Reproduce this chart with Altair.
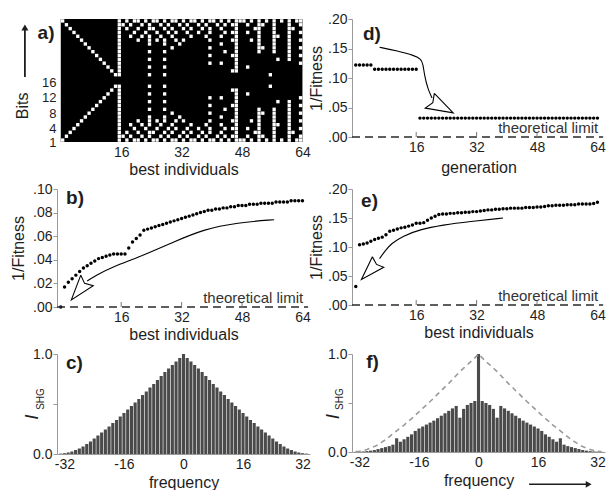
import altair as alt
import pandas as pd

FONT = "Liberation Sans"
TXT = "#1e1e1e"
AXC = "#9a9a9a"

# ---------------- data ----------------
# panel a: bit matrix, written top row (bit 32) to bottom row (bit 1); "1" = white cell
A_MATRIX = [
    "1000000000000001" "0101101011010110" "1011010110101011" "1010101010101011",
    "0100000000000001" "1010010100101001" "0100101001010110" "0100110010001001",
    "0010000000000001" "0100100110010100" "1010010100100010" "0001100010001100",
    "0001000000000001" "0001001001001010" "0100100100010110" "0100100010001001",
    "0000100000000001" "0010010100100100" "0010001000100010" "0000100011001000",
    "0000010000000001" "0000100101010010" "1000000100000110" "0010100010001001",
    "0000001000000001" "0000000100010001" "0000000000100010" "0000100010001000",
    "0000000100000001" "0000000000000100" "0000000100000010" "0000110010001001",
    "0000000010000001" "0000000100010000" "0000000000010010" "0000100010001000",
    "0000000001000001" "0000000000000000" "0000000100000110" "0000000000001001",
    "0000000000100001" "0000000100010000" "0000000000000010" "0000000001001000",
    "0000000000010001" "0000000000000000" "0000000100100010" "0000000000000001",
    "0000000000001001" "0000000100010000" "0000000000000010" "0100000000000000",
    "0000000000000101" "0000000000000000" "0000000000000110" "0000000000000000",
    "0000000000000011" "0000000100010000" "0000000000000000" "0000000100000000",
    "0000000000000000" "0000000000000000" "0000000000000000" "0000000000000000",
    "0000000000000000" "0000000000000000" "0000000000000000" "0000000000000000",
    "0000000000000011" "0000000100010000" "0000000000000000" "0000000100000000",
    "0000000000000101" "0000000000000000" "0000000000000110" "0000000000000000",
    "0000000000001001" "0000000100010000" "0000000000000010" "0100000000000000",
    "0000000000010001" "0000000000000000" "0000000100100010" "0000000000000001",
    "0000000000100001" "0000000100010000" "0000000000000010" "0000000001001000",
    "0000000001000001" "0000000000000000" "0000000100000110" "0000000000001001",
    "0000000010000001" "0000000100010000" "0000000000010010" "0000100010001000",
    "0000000100000001" "0000000000000100" "0000000100000010" "0000110010001001",
    "0000001000000001" "0000000100010001" "0000000000100010" "0000100010001000",
    "0000010000000001" "0000100101010010" "1000000100000110" "0010100010001001",
    "0000100000000001" "0010010100100100" "0010001000100010" "0000100011001000",
    "0001000000000001" "0001001001001010" "0100100100010110" "0100100010001001",
    "0010000000000001" "0100100110010100" "1010010100100010" "0001100010001100",
    "0100000000000001" "1010010100101001" "0100101001010110" "0100110010001001",
    "1000000000000001" "0101101011010110" "1011010110101011" "1010101010101011",
]
A_XTICKS = [16, 32, 48, 64]
A_YTICKS = [1, 4, 8, 12, 16]

# panel b: best individuals 0..64
B_X = list(range(0, 65))
B_VAL = [0.000, 0.017, 0.021, 0.024, 0.027, 0.030, 0.033, 0.035, 0.037, 0.039,
         0.041, 0.042, 0.043, 0.044, 0.045, 0.045, 0.045, 0.045, 0.050, 0.055,
         0.058, 0.061, 0.065, 0.066, 0.067, 0.068, 0.069, 0.070, 0.071, 0.072,
         0.073, 0.074, 0.075, 0.076, 0.077, 0.078, 0.079, 0.080, 0.081, 0.082,
         0.082, 0.083, 0.083, 0.084, 0.084, 0.085, 0.085, 0.086, 0.086, 0.086,
         0.087, 0.087, 0.087, 0.088, 0.088, 0.088, 0.088, 0.089, 0.089, 0.089,
         0.089, 0.090, 0.090, 0.090, 0.090]

# panel d: generation 0..64
D_X = list(range(0, 65))
D_VAL = [0.122, 0.122, 0.122, 0.122, 0.122,
         0.115, 0.115, 0.115, 0.115, 0.115, 0.115, 0.115, 0.115, 0.115, 0.115, 0.115, 0.115,
         0.032, 0.032, 0.032, 0.032, 0.032, 0.032, 0.032, 0.032, 0.032, 0.032, 0.032, 0.032,
         0.032, 0.032, 0.032, 0.032, 0.032, 0.032, 0.032, 0.032, 0.032, 0.032, 0.032, 0.032,
         0.032, 0.032, 0.032, 0.032, 0.032, 0.032, 0.032, 0.032, 0.032, 0.032, 0.032, 0.032,
         0.032, 0.032, 0.032, 0.032, 0.032, 0.032, 0.032, 0.032, 0.032, 0.032, 0.032, 0.032]

# panel e: best individuals 0..64
E_X = list(range(0, 65))
E_VAL = [0.032, 0.104, 0.105, 0.107, 0.110, 0.113, 0.115, 0.117, 0.121, 0.127,
         0.129, 0.131, 0.133, 0.134, 0.136, 0.138, 0.141, 0.141, 0.142, 0.146,
         0.150, 0.153, 0.156, 0.157, 0.157, 0.158, 0.158, 0.159, 0.159, 0.160,
         0.160, 0.161, 0.161, 0.162, 0.163, 0.164, 0.164, 0.165, 0.165, 0.166,
         0.166, 0.167, 0.167, 0.167, 0.167, 0.168, 0.168, 0.168, 0.169, 0.169,
         0.170, 0.171, 0.171, 0.172, 0.172, 0.172, 0.173, 0.173, 0.173, 0.174,
         0.174, 0.174, 0.174, 0.175, 0.177]
FIT_XTICKS = [16, 32, 48, 64]

# panels c and f: frequency -33..33
FREQ = list(range(-33, 34))
C_VAL = [0.004, 0.008, 0.015, 0.025, 0.04, 0.055, 0.075, 0.10, 0.125, 0.155, 0.185,
         0.215, 0.245, 0.275, 0.31, 0.34, 0.375, 0.41, 0.445, 0.48, 0.515, 0.55,
         0.59, 0.625, 0.665, 0.70, 0.74, 0.78, 0.82, 0.855, 0.89, 0.925, 0.96,
         1.00,
         0.96, 0.925, 0.89, 0.855, 0.82, 0.78, 0.74, 0.70, 0.665, 0.625, 0.59,
         0.55, 0.515, 0.48, 0.445, 0.41, 0.375, 0.34, 0.31, 0.275, 0.245, 0.215,
         0.185, 0.155, 0.125, 0.10, 0.075, 0.055, 0.04, 0.025, 0.015, 0.008, 0.004]
F_VAL = [0.002, 0.004, 0.006, 0.009, 0.014, 0.02, 0.03, 0.04, 0.05, 0.06, 0.075,
         0.14, 0.105, 0.13, 0.155, 0.18, 0.215, 0.24, 0.26, 0.28, 0.30, 0.32,
         0.345, 0.37, 0.395, 0.42, 0.445, 0.47, 0.35, 0.44, 0.48, 0.50, 0.52,
         1.00,
         0.52, 0.50, 0.48, 0.44, 0.35, 0.47, 0.445, 0.42, 0.395, 0.37, 0.345,
         0.32, 0.30, 0.28, 0.26, 0.24, 0.215, 0.18, 0.155, 0.13, 0.105, 0.14,
         0.075, 0.06, 0.05, 0.04, 0.03, 0.02, 0.014, 0.009, 0.006, 0.004, 0.002]
FREQ_TICKS = [-32, -16, 0, 16, 32]

W = 253


# ---------------- helpers ----------------
class Frame:
    """scales + axes shared by every layer of one panel"""

    def __init__(self, xs, ys, xa, ya):
        self.xs, self.ys, self.xa, self.ya = xs, ys, xa, ya

    def enc(self, xf="x:Q", yf="y:Q"):
        return dict(x=alt.X(xf, scale=self.xs, axis=self.xa), y=alt.Y(yf, scale=self.ys, axis=self.ya))


def text_at(fr, x, y, text, color=TXT, **mark):
    df = pd.DataFrame({"x": [x], "y": [y], "t": [text]})
    return alt.Chart(df).mark_text(font=FONT, color=color, **mark).encode(text="t:N", **fr.enc())


def polyline(fr, pts, interp="linear", **mark):
    df = pd.DataFrame({"x": [p[0] for p in pts], "y": [p[1] for p in pts],
                       "o": list(range(len(pts)))})
    return alt.Chart(df).mark_line(interpolate=interp, **mark).encode(order="o:Q", **fr.enc())


def letter(fr, x, y, t):
    return text_at(fr, x, y, t, fontSize=19, fontWeight="bold", align="left", baseline="middle")


# ---------------- panel a ----------------
fa = Frame(
    alt.Scale(domain=[-1, 66], nice=False, zero=False),
    alt.Scale(domain=[0.5, 32.5], nice=False, zero=False),
    alt.Axis(values=A_XTICKS, domain=False, ticks=False, labelPadding=3, labelFlush=False,
             labelOverlap=False, title="best individuals", titlePadding=2),
    alt.Axis(values=A_YTICKS, domain=False, ticks=False, labelPadding=1, labelOverlap=False,
             labelFlush=False, labelFontSize=13, title=None,
             labelOffset={"condition": {"test": "datum.value == 1", "value": 2}, "value": 0}),
)
recs = []
nrows = len(A_MATRIX)
for i, row in enumerate(A_MATRIX):
    bit = nrows - i
    for j, ch in enumerate(row[:64]):
        if ch == "1":
            recs.append({"x": j + 0.06, "x2": j + 0.94, "y": bit - 0.44, "y2": bit + 0.44})
cells = pd.DataFrame(recs)

a_bg = alt.Chart(pd.DataFrame({"x": [0], "x2": [64], "y": [0.5], "y2": [32.5]})).mark_rect(
    color="black").encode(x2="x2:Q", y2="y2:Q", **fa.enc())
a_cells = alt.Chart(cells).mark_rect(color="white").encode(x2="x2:Q", y2="y2:Q", **fa.enc())
a_bits = text_at(fa, -10.0, 9.9, "Bits", fontSize=16, angle=270, align="center", baseline="middle")
a_arrow = alt.Chart(pd.DataFrame({"x": [-9.5], "y": [17.4], "y2": [30.0]})).mark_rule(
    color=TXT, strokeWidth=1.8).encode(y2="y2:Q", **fa.enc())
a_head = alt.Chart(pd.DataFrame({"x": [-9.5], "y": [30.3]})).mark_point(
    shape="triangle-up", filled=True, color=TXT, size=50, opacity=1).encode(**fa.enc())
panel_a = alt.layer(a_bg, a_cells, a_arrow, a_head, a_bits,
                    text_at(fa, -3.9, 28.9, "a)", fontSize=19, fontWeight="bold",
                            align="center", baseline="middle")
                    ).properties(width=W, height=123)


# ---------------- fitness panels (b, d, e) ----------------
def fitness_panel(xv, yv, ymax, yvals, height, xtitle, xtitle_pad, let, let_xy, curve, head,
                  ytitle_pad, yext, tick_len):
    fr = Frame(
        alt.Scale(domain=[-1, 66], nice=False, zero=False),
        alt.Scale(domain=[0, ymax], nice=False, zero=False),
        alt.Axis(values=FIT_XTICKS, domain=False, ticks=False, labelPadding=3, labelFlush=False,
                 labelOverlap=False, title=xtitle, titlePadding=xtitle_pad),
        alt.Axis(values=yvals, labelExpr="replace(format(datum.value, '.2f'), '0.', '.')",
                 title="1/Fitness", domainColor=AXC, tickColor=AXC, tickSize=4, labelOverlap=False,
                 labelPadding=1, titlePadding=ytitle_pad, minExtent=yext, maxExtent=yext),
    )
    df = pd.DataFrame({"x": xv, "y": yv})
    pts = alt.Chart(df).mark_point(filled=True, color="black", size=12, opacity=1).encode(**fr.enc())
    limit = alt.Chart(pd.DataFrame({"x": [-1], "x2": [65.5], "y": [0]})).mark_rule(
        color="#2a2a2a", strokeWidth=1.4, strokeDash=[8, 5]).encode(x2="x2:Q", **fr.enc())
    tks = alt.Chart(pd.DataFrame({"x": FIT_XTICKS[:3], "y": [0] * 3, "y2": [tick_len] * 3})).mark_rule(
        color="#777777", strokeWidth=1).encode(y2="y2:Q", **fr.enc())
    txt = text_at(fr, 64.2, 0, "theoretical limit", color="#333333", fontSize=15, align="right",
                  baseline="alphabetic", dy=-4)
    cv = polyline(fr, curve, interp="basis", color="black", strokeWidth=1.1)
    hd = polyline(fr, head, color="black", strokeWidth=1.1)
    lt = letter(fr, let_xy[0], let_xy[1], let)
    return alt.layer(pts, limit, tks, cv, hd, txt, lt).properties(width=W, height=height)


panel_b = fitness_panel(
    B_X, B_VAL, 0.10, [0, 0.02, 0.04, 0.06, 0.08, 0.10], 118, "best individuals", 2, "b)", (1.4, 0.092),
    [(56.5, 0.074), (46.8, 0.0715), (37.9, 0.066), (29.1, 0.054), (20.9, 0.0425), (13.8, 0.034),
     (9.4, 0.027), (7.0, 0.022)],
    [(5.3, 0.027), (2.8, 0.006), (8.6, 0.018), (6.3, 0.020), (5.3, 0.027)],
    9, 22, 0.0042)

panel_d = fitness_panel(
    D_X, D_VAL, 0.20, [0, 0.05, 0.10, 0.15, 0.20], 118, "generation", 5, "d)", (1.9, 0.175),
    [(6.3, 0.152), (11.0, 0.146), (15.6, 0.138), (17.3, 0.132), (17.8, 0.124), (18.2, 0.104),
     (19.1, 0.081), (20.2, 0.066)],
    [(20.8, 0.074), (25.8, 0.041), (18.4, 0.049), (20.4, 0.058), (20.8, 0.074)],
    10, 18, 0.0085)

panel_e = fitness_panel(
    E_X, E_VAL, 0.20, [0, 0.05, 0.10, 0.15, 0.20], 116, "best individuals", 2, "e)", (1.4, 0.180),
    [(39.0, 0.150), (30.2, 0.144), (23.1, 0.138), (16.9, 0.130), (12.5, 0.119), (9.4, 0.106),
     (7.7, 0.093), (6.3, 0.080)],
    [(4.4, 0.083), (1.5, 0.044), (7.4, 0.065), (5.5, 0.070), (4.4, 0.083)],
    10, 18, 0.0086)


# ---------------- spectrum panels (c, f) ----------------
def spectrum_panel(vals, height, let, let_xy, ititle_xy, stitle_xy, xtitle_pad, envelope=None, arrow=False):
    fr = Frame(
        alt.Scale(domain=[-34, 34], nice=False, zero=False),
        alt.Scale(domain=[0, 1.0], nice=False, zero=False),
        alt.Axis(values=FREQ_TICKS, labelExpr="'' + datum.value", domainColor=AXC, ticks=False,
                 labelPadding=3, labelFlush=False, labelOverlap=False, title="frequency",
                 titlePadding=xtitle_pad),
        alt.Axis(values=[0, 0.5, 1.0], labelExpr="datum.value == 0.5 ? '' : format(datum.value, '.1f')",
                 title=None, domainColor=AXC, tickColor=AXC, tickSize=4, labelPadding=1,
                 labelOverlap=False),
    )
    df = pd.DataFrame({"f": FREQ, "v": vals})
    df["x"] = df["f"] - 0.42
    df["x2"] = df["f"] + 0.42
    df["y"] = 0.0
    bars = alt.Chart(df).mark_rect(color="#4a4a4a").encode(x2="x2:Q", y2="v:Q", **fr.enc())
    layers = [bars]
    if envelope is not None:
        edf = pd.DataFrame({"x": FREQ, "y": envelope})
        layers.append(alt.Chart(edf).mark_line(color="#9a9a9a", strokeWidth=1.6, strokeDash=[5, 4]).encode(
            **fr.enc()))
    layers.append(letter(fr, let_xy[0], let_xy[1], let))
    layers.append(text_at(fr, ititle_xy[0], ititle_xy[1], "I", fontSize=19, fontStyle="italic",
                          angle=270, align="center", baseline="middle"))
    layers.append(text_at(fr, stitle_xy[0], stitle_xy[1], "SHG", fontSize=10,
                          angle=270, align="center", baseline="middle"))
    if arrow:
        layers.append(alt.Chart(pd.DataFrame({"x": [13.6], "x2": [29.0], "y": [-0.33]})).mark_rule(
            color=TXT, strokeWidth=1.5).encode(x2="x2:Q", **fr.enc()))
        layers.append(alt.Chart(pd.DataFrame({"x": [29.6], "y": [-0.33]})).mark_point(
            shape="triangle-right", filled=True, color=TXT, size=45, opacity=1).encode(**fr.enc()))
    return alt.layer(*layers).properties(width=W, height=height)


panel_c = spectrum_panel(C_VAL, 100, "c)", (-31.6, 0.915), (-40.7, 0.37), (-38.4, 0.55), 3)
panel_f = spectrum_panel(F_VAL, 98, "f)", (-30.2, 0.92), (-39.1, 0.36), (-37.2, 0.54), 3,
                         envelope=C_VAL, arrow=True)

chart = alt.concat(
    panel_a, panel_d, panel_b, panel_e, panel_c, panel_f,
    columns=2, spacing={"row": 47, "column": 42}, bounds="flush", align="each",
).properties(
    padding={"left": 10, "top": 12, "right": 0, "bottom": 0}
).configure(font=FONT).configure_view(stroke=None).configure_axis(
    labelFont=FONT, titleFont=FONT, labelColor=TXT, titleColor=TXT, labelFontSize=14,
    titleFontSize=16, titleFontWeight="normal", grid=False)

chart.save("out.html", embed_options={"renderer": "svg", "actions": False})
